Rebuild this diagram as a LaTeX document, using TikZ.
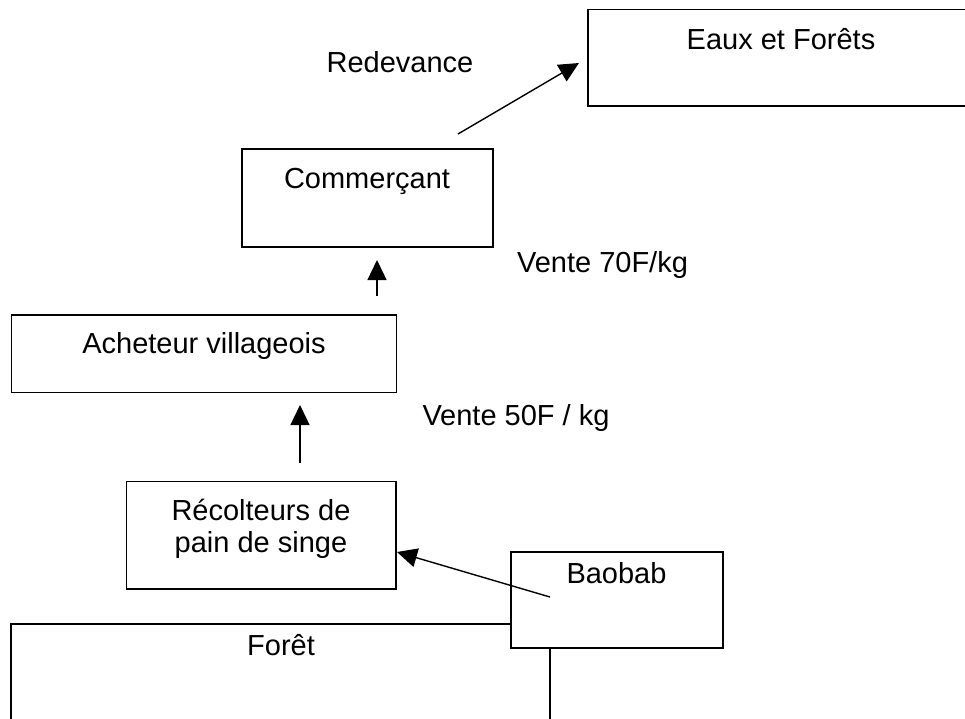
\documentclass[tikz,border=0pt]{standalone}
\usepackage{fontspec}
\setmainfont{Liberation Sans}
\usetikzlibrary{arrows.meta}
\begin{document}
\begin{tikzpicture}[x=1pt,y=-1pt,
  box/.style={draw=black, line width=1.4pt, fill=white, rectangle, inner sep=0pt, outer sep=0pt},
  lbl/.style={anchor=base, inner sep=0pt, font=\fontsize{29}{33}\selectfont},
  flow/.style={draw=black, line width=1.4pt, -{Triangle[length=20pt,width=19pt]}}]
\useasboundingbox (0,0) rectangle (965,718);
\clip (0,0) rectangle (965,718);
% boxes
\node[box, minimum width=539pt, minimum height=150pt] (foret) at (280.5,699) {};
\node[box, minimum width=212pt, minimum height=96pt] (baobab) at (617,600) {};
\node[box, minimum width=269.3pt, minimum height=107.3pt] (recolteurs) at (261.3,535.3) {};
\node[box, minimum width=385pt, minimum height=77.7pt] (acheteur) at (204.2,353.8) {};
\node[box, minimum width=251pt, minimum height=98pt] (commercant) at (367.5,198) {};
\node[box, minimum width=386pt, minimum height=96.7pt] (eaux) at (781,57.7) {};
% texts
\node[lbl] (teaux) at (781,49) {Eaux et Forêts};
\node[lbl] (tredev) at (400,72) {Redevance};
\node[lbl] (tcomm) at (367,188) {Commerçant};
\node[lbl] (tv70) at (602.5,272) {Vente 70F/kg};
\node[lbl] (tach) at (204,353) {Acheteur villageois};
\node[lbl] (tv50) at (516,425) {Vente 50F / kg};
\node[lbl] (trec1) at (261,520) {Récolteurs de};
\node[lbl] (trec2) at (261,552) {pain de singe};
\node[lbl] (tbao) at (616.5,583) {Baobab};
\node[lbl] (tfor) at (281,655) {Forêt};
% connector ends
\coordinate (r1) at (458,134);
\coordinate (r2) at (579,63);
\coordinate (c1) at (377,296);
\coordinate (c2) at (377,260);
\coordinate (a1) at (300,463);
\coordinate (a2) at (300,405);
\coordinate (b1) at (550,597);
\coordinate (b2) at (397,552);
% connectors
\draw[flow] (r1) -- (r2);
\draw[flow] (c1) -- (c2);
\draw[flow] (a1) -- (a2);
\draw[flow] (b1) -- (b2);
\end{tikzpicture}
\end{document}
